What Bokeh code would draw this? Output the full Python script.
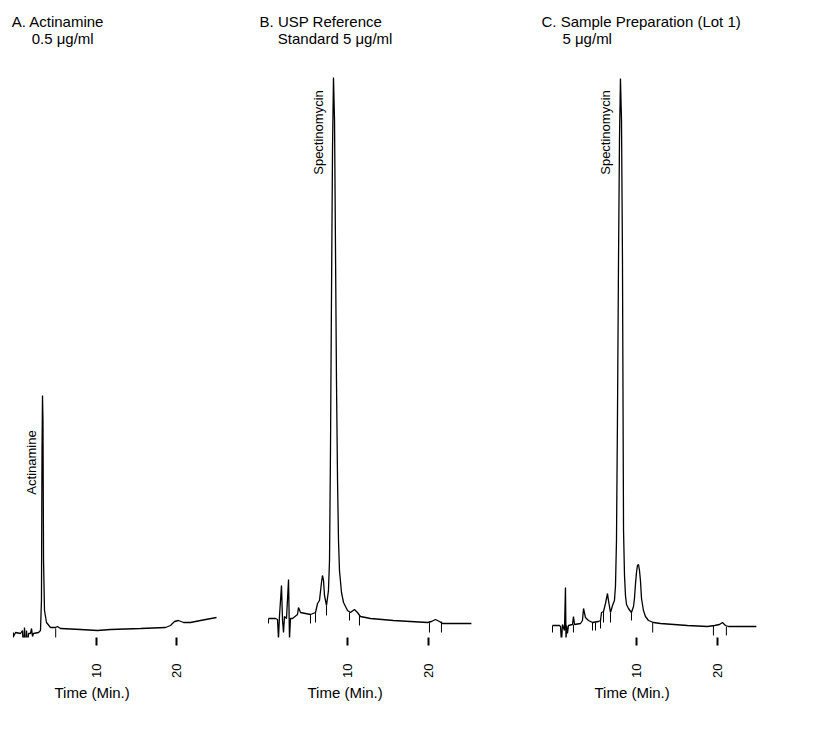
import math
from bokeh.plotting import figure
from bokeh.layouts import row
from bokeh.models import Range1d, FixedTicker, Label, ColumnDataSource, Title
from bokeh.embed import file_html
from bokeh.resources import INLINE

FONT = "Liberation Sans"

# ---------------- data (time in min, detector response in arbitrary units) ----------------
# Panel A: Actinamine 0.5 ug/ml
a_time = [-0.38, -0.12, 0.5, 0.75, 0.88, 1.0, 1.12, 1.25, 1.38, 1.5, 1.75, 1.88, 2.0, 2.12,
          2.75, 3.0, 3.12, 3.19, 3.25, 3.31, 3.38, 3.5, 3.75, 4.25, 4.88, 5.12, 5.5, 8.0,
          10.12, 11.75, 15.5, 18.62, 19.25, 19.75, 20.25, 20.88, 21.75, 23.0, 25.0]
a_resp = [-8, -4, -5, -2, -24, 1, -27, -2, -22, -5, -5, 0, -8, -5,
          -4, -2, 28, 178, 233, 208, 68, 18, 6, 1, 1, 2, 0, -1,
          -2, -1, 0, 1, 3, 7, 8, 6, 6, 8, 11]
a_evt_time = [-0.38, 4.9]
a_evt_top = [-4, 0]
a_evt_bot = [-15, -10]

# Panel B: USP Reference Standard 5 ug/ml
b_time = [0.25, 1.11, 1.36, 1.48, 1.6, 1.85, 1.98, 2.1, 2.22, 2.47, 2.72, 2.84, 2.96, 3.21,
          3.83, 3.95, 4.2, 4.81, 5.43, 6.05, 6.3, 6.54, 6.79, 6.91, 7.04, 7.16, 7.41, 7.65,
          7.78, 7.9, 8.02, 8.15, 8.27, 8.4, 8.52, 8.64, 8.77, 8.89, 9.01, 9.26, 9.51, 10.0,
          10.37, 10.86, 11.23, 11.6, 12.84, 15.68, 19.88, 20.37, 20.86, 21.36, 21.73, 25.3]
b_resp = [10, 10, 9, -10, 12, 43, 8, -4, 12, 10, 49, -10, 10, 10,
          14, 21, 16, 15, 14, 16, 25, 28, 46, 53, 48, 33, 23, 38,
          68, 178, 328, 478, 551, 508, 378, 248, 148, 88, 58, 36, 26, 18,
          16, 19, 16, 12, 10, 8, 6, 7, 9, 7, 5, 5]
b_evt_time = [0.25, 5.43, 6.05, 7.41, 10.25, 11.48, 20.12, 21.6]
b_evt_top = [10, 14, 16, 23, 16, 13, 6, 7]
b_evt_bot = [5, 5, 6, 13, 8, 3, -4, -4]

# Panel C: Sample Preparation (Lot 1) 5 ug/ml
c_time = [-0.37, 0.49, 0.62, 0.74, 0.86, 1.11, 1.23, 1.3, 1.36, 1.48, 1.6, 2.1, 2.22, 2.35,
          3.09, 3.33, 3.46, 3.7, 4.07, 4.57, 5.31, 5.56, 5.68, 5.93, 6.17, 6.42, 6.54, 6.79,
          7.04, 7.28, 7.41, 7.53, 7.65, 7.78, 7.9, 8.02, 8.15, 8.27, 8.4, 8.52, 8.64, 8.77,
          9.01, 9.38, 9.63, 9.75, 9.88, 10.0, 10.12, 10.25, 10.37, 10.49, 10.62, 10.86, 11.11,
          11.48, 12.1, 12.96, 16.3, 18.77, 19.63, 20.25, 20.62, 20.99, 21.36, 24.8]
c_resp = [3, 3, 2, -14, 4, -2, 41, -12, 3, -5, 3, 4, 12, 4,
          5, 8, 20, 11, 8, 6, 7, 8, 16, 17, 25, 35, 28, 16,
          23, 28, 43, 88, 208, 368, 488, 550, 508, 368, 98, 53, 33, 24,
          20, 16, 22, 30, 45, 56, 63, 64, 58, 48, 30, 18, 12,
          8, 6, 5, 3, 2, 3, 4, 6, 3, 2, 2]
c_evt_time = [-0.37, 2.22, 4.57, 4.94, 5.56, 5.93, 6.79, 9.38, 12.0, 19.5, 21.1]
c_evt_top = [3, 4, 6, 6, 8, 17, 16, 16, 6, 3, 2]
c_evt_bot = [-4, -4, -2, -2, 0, 6, 6, 8, -4, -7, -7]

time_ticks = [10, 20]
titles = [("A. Actinamine", "0.5 \u03bcg/ml"),
          ("B. USP Reference", "Standard 5 \u03bcg/ml"),
          ("C. Sample Preparation (Lot 1)", "5 \u03bcg/ml")]
peak_names = ["Actinamine", "Spectinomycin", "Spectinomycin"]
x_label = "Time (Min.)"

# ---------------- layout settings ----------------
panels = [
    dict(t=a_time, r=a_resp, et=a_evt_time, etop=a_evt_top, ebot=a_evt_bot,
         width=258, xr=(-2.0, 30.25), t1=-0.6, t2=1.9, pk=(1.88, 166), xoff=54),
    dict(t=b_time, r=b_resp, et=b_evt_time, etop=b_evt_top, ebot=b_evt_bot,
         width=282, xr=(-0.988, 33.83), t1=-0.86, t2=1.4, pk=(6.42, 496), xoff=49),
    dict(t=c_time, r=c_resp, et=c_evt_time, etop=c_evt_top, ebot=c_evt_bot,
         width=277, xr=(-1.852, 32.35), t1=-1.73, t2=0.86, pk=(6.17, 496), xoff=54),
]

figs = []
for i, pn in enumerate(panels):
    p = figure(width=pn["width"], height=730, output_backend="svg", toolbar_location=None,
               x_range=Range1d(*pn["xr"]), y_range=Range1d(-9, 628),
               y_axis_location=None, min_border_left=0, min_border_right=0,
               min_border_top=0, min_border_bottom=93)
    p.outline_line_color = None
    p.grid.visible = False
    p.background_fill_color = "white"
    p.border_fill_color = "white"

    ax = p.xaxis[0]
    ax.ticker = FixedTicker(ticks=time_ticks)
    ax.axis_line_color = None
    ax.major_tick_in = 0
    ax.major_tick_out = 8
    ax.major_tick_line_width = 2
    ax.major_tick_line_color = "black"
    ax.minor_tick_line_color = None
    ax.major_label_orientation = math.pi / 2
    ax.major_label_standoff = 18
    ax.major_label_text_font = FONT
    ax.major_label_text_font_size = "13px"
    ax.major_label_text_color = "black"

    src = ColumnDataSource(dict(t=pn["t"], r=pn["r"]))
    p.line("t", "r", source=src, line_color="black", line_width=1.3)
    esrc = ColumnDataSource(dict(t=pn["et"], top=pn["etop"], bot=pn["ebot"]))
    p.segment(x0="t", y0="top", x1="t", y1="bot", source=esrc, line_color="black", line_width=1)

    l1, l2 = titles[i]
    p.add_layout(Label(x=pn["t1"], y=607, text=l1, text_font=FONT, text_font_size="15px",
                       text_color="black", text_baseline="alphabetic"))
    p.add_layout(Label(x=pn["t2"], y=590, text=l2, text_font=FONT, text_font_size="15px",
                       text_color="black", text_baseline="alphabetic"))
    p.add_layout(Label(x=pn["pk"][0], y=pn["pk"][1], text=peak_names[i], angle=math.pi / 2,
                       text_align="center", text_baseline="middle", text_font=FONT,
                       text_font_size="13px", text_color="black"))
    p.add_layout(Title(text=x_label, align="left", offset=pn["xoff"], text_font=FONT,
                       text_font_size="15px", text_font_style="normal", text_color="black",
                       standoff=3), "below")
    figs.append(p)

layout = row(*figs)
open("out.html", "w").write(file_html(layout, INLINE))
